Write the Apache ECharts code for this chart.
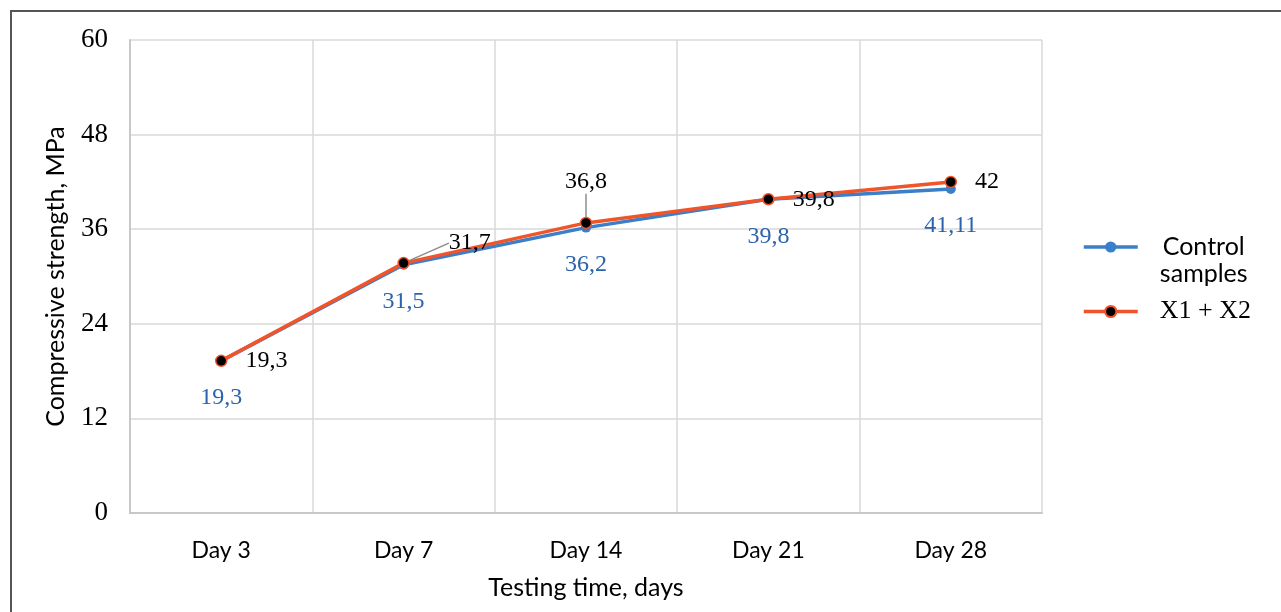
<!DOCTYPE html>
<html><head><meta charset="utf-8">
<script src="https://cdn.jsdelivr.net/npm/echarts@6/dist/echarts.min.js"></script>
<style>
html,body{margin:0;padding:0;background:#fff;}
#frame{position:absolute;left:10px;top:10px;width:1271px;height:602px;border-left:2px solid #555;border-top:2px solid #555;box-sizing:border-box;}
#chart{position:absolute;left:0;top:0;width:1281px;height:612px;}
</style></head><body>
<div id="frame"></div><div id="chart"></div>
<script>
const categories = ['Day 3','Day 7','Day 14','Day 21','Day 28'];
const controlName = 'Control samples';
const controlValues = [19.3, 31.5, 36.2, 39.8, 41.11];
const mixName = 'X1 + X2';
const mixValues = [19.3, 31.7, 36.8, 39.8, 42];
const yMin = 0, yMax = 60, yStep = 12;

const SANS = 'Lato';
const SERIF = 'Liberation Serif';
const fmt = p => String(p.value).replace('.', ',');

const mixData = mixValues.map((v, i) => {
  const item = { value: v };
  if (i === 1) {
    item.labelLine = { show: true };
  } else if (i === 2) {
    item.label = { position: 'top', distance: 23 };
    item.labelLine = { show: true };
  }
  return item;
});

const chart = echarts.init(document.getElementById('chart'), null, { renderer: 'canvas' });
chart.setOption({
  animation: false,
  grid: { left: 130, right: 239, top: 40, bottom: 99 },
  legend: {
    orient: 'vertical', left: 1077, top: 203, itemGap: 12,
    itemWidth: 54, itemHeight: 14,
    lineStyle: { width: 3.5 },
    data: [controlName, mixName],
    formatter: n => n === controlName ? '{e| }\n{c|Control}\n{c|samples}' : '{s|' + n + '}',
    textStyle: {
      rich: {
        e: { lineHeight: 27, fontSize: 24 },
        c: { fontFamily: SANS, fontSize: 25, lineHeight: 27, color: '#000', width: 122, align: 'center' },
        s: { fontFamily: SERIF, fontSize: 26, lineHeight: 27, color: '#000', padding: [0, 0, 0, 17] }
      }
    }
  },
  xAxis: {
    type: 'category', data: categories, boundaryGap: true,
    axisLine: { lineStyle: { color: '#c8c8c8', width: 2 } },
    axisTick: { show: false },
    splitLine: { show: true, lineStyle: { color: '#d9d9d9', width: 1.5 } },
    axisLabel: { fontFamily: SANS, fontSize: 23, color: '#000', margin: 26 },
    name: 'Testing time, days', nameLocation: 'middle', nameGap: 62,
    nameTextStyle: { fontFamily: SANS, fontSize: 25, color: '#000' }
  },
  yAxis: {
    type: 'value', min: yMin, max: yMax, interval: yStep,
    axisLine: { show: true, lineStyle: { color: '#c8c8c8', width: 2 } },
    axisTick: { show: false },
    splitLine: { lineStyle: { color: '#d9d9d9', width: 1.5 } },
    axisLabel: { fontFamily: SERIF, fontSize: 27, color: '#000', margin: 22 },
    name: 'Compressive strength, MPa', nameLocation: 'middle', nameGap: 62,
    nameTextStyle: { fontFamily: SANS, fontSize: 25, color: '#000' }
  },
  series: [
    {
      name: controlName, type: 'line', data: controlValues,
      symbol: 'circle', symbolSize: 10,
      lineStyle: { color: '#3a7fc8', width: 3.5 },
      itemStyle: { color: '#3a7fc8' },
      label: { show: true, position: 'bottom', distance: 20, formatter: fmt,
        fontFamily: SERIF, fontSize: 24, color: '#2b64ad' }
    },
    {
      name: mixName, type: 'line', data: mixData,
      symbol: 'circle', symbolSize: 11,
      lineStyle: { color: '#f0542a', width: 3.5 },
      itemStyle: { color: '#000', borderColor: '#f0542a', borderWidth: 1.5 },
      label: { show: true, position: 'right', distance: 18, formatter: fmt,
        fontFamily: SERIF, fontSize: 24, color: '#000' },
      labelLine: { show: false, lineStyle: { color: '#8c8c8c', width: 1.5 } },
      labelLayout: function (params) {
        const r = params.rect, lr = params.labelRect;
        const cx = r.x + r.width / 2, cy = r.y + r.height / 2;
        if (params.dataIndex === 1) {
          const dx = 21, dy = -20;
          const lx = lr.x + dx, ly = lr.y + dy + lr.height / 2;
          return { dx: dx, dy: dy, labelLinePoints: [[cx + 3, cy - 3], [lx - 20, ly], [lx - 5, ly]] };
        }
        if (params.dataIndex === 2) {
          return { labelLinePoints: [[cx, cy - 5], [cx - 3, lr.y + lr.height + 4]] };
        }
        return {};
      }
    }
  ]
});
</script>
</body></html>
